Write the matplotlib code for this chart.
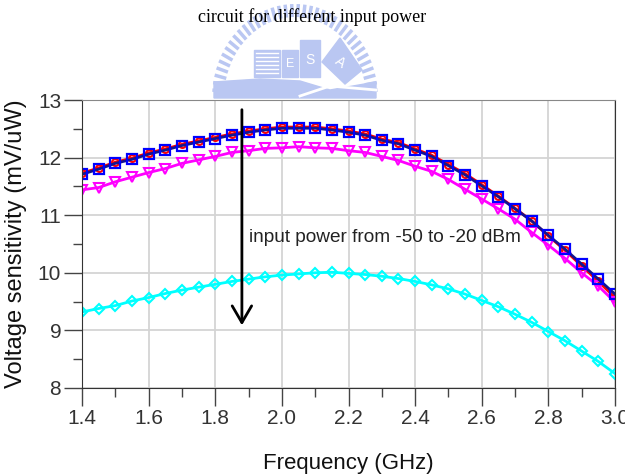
import numpy as np
import matplotlib.pyplot as plt
from matplotlib.patches import Rectangle, Polygon
from matplotlib.ticker import MultipleLocator

# frequency points (GHz)
freq = [1.40, 1.45, 1.50, 1.55, 1.60, 1.65, 1.70, 1.75, 1.80, 1.85, 1.90,
        1.95, 2.00, 2.05, 2.10, 2.15, 2.20, 2.25, 2.30, 2.35, 2.40, 2.45,
        2.50, 2.55, 2.60, 2.65, 2.70, 2.75, 2.80, 2.85, 2.90, 2.95, 3.00]

# voltage sensitivity (mV/uW) for each input power
sq_blue = [11.71, 11.80, 11.90, 11.97, 12.06, 12.13, 12.21, 12.27, 12.33, 12.39, 12.44,
           12.48, 12.51, 12.51, 12.51, 12.48, 12.44, 12.39, 12.30, 12.24, 12.13, 12.02,
           11.86, 11.70, 11.51, 11.32, 11.11, 10.90, 10.65, 10.41, 10.15, 9.89, 9.63]
circ_red = [11.73, 11.82, 11.92, 11.99, 12.08, 12.15, 12.23, 12.29, 12.35, 12.41, 12.46,
            12.50, 12.53, 12.53, 12.53, 12.50, 12.46, 12.41, 12.32, 12.26, 12.15, 12.04,
            11.88, 11.72, 11.53, 11.33, 11.12, 10.90, 10.64, 10.39, 10.12, 9.85, 9.57]
tri_mag = [11.44, 11.48, 11.58, 11.66, 11.74, 11.81, 11.90, 11.96, 12.02, 12.09, 12.12,
           12.16, 12.17, 12.19, 12.17, 12.16, 12.12, 12.09, 12.02, 11.95, 11.85, 11.76,
           11.62, 11.45, 11.28, 11.11, 10.93, 10.70, 10.48, 10.25, 10.00, 9.77, 9.49]
dia_cyan = [9.32, 9.38, 9.43, 9.51, 9.57, 9.64, 9.70, 9.75, 9.80, 9.85, 9.89,
            9.93, 9.96, 9.98, 10.00, 10.01, 9.99, 9.97, 9.94, 9.90, 9.85, 9.79,
            9.72, 9.63, 9.52, 9.41, 9.28, 9.14, 8.98, 8.82, 8.64, 8.46, 8.25]

xticks = [1.4, 1.6, 1.8, 2.0, 2.2, 2.4, 2.6, 2.8, 3.0]
yticks = [8, 9, 10, 11, 12, 13]

plt.rcParams['font.family'] = ['Liberation Sans', 'DejaVu Sans']

fig = plt.figure(figsize=(6.25, 4.76), dpi=100)

# faded logo behind the title (pixel coords)
bg = fig.add_axes([0, 0, 1, 1], zorder=0)
bg.set_xlim(0, 625)
bg.set_ylim(476, 0)
bg.axis('off')
lc = '#bac7f2'
cx, cy = 295, 99
for a in np.linspace(np.pi * 0.03, np.pi * 0.97, 38):
    x0, y0 = cx - 71 * np.cos(a), cy - 82 * np.sin(a)
    x1, y1 = cx - 83 * np.cos(a), cy - 95 * np.sin(a)
    bg.plot([x0, x1], [y0, y1], color=lc, lw=2.5, solid_capstyle='butt')
bg.add_patch(Rectangle((254, 50), 26, 27, color=lc))
for yy in range(53, 76, 4):
    bg.plot([256, 278], [yy, yy], color='white', lw=1)
bg.add_patch(Rectangle((282, 50), 16, 27, color=lc))
bg.add_patch(Rectangle((300, 40), 20, 37, color=lc))
bg.text(290, 64, 'E', color='white', fontsize=9, ha='center', va='center')
bg.text(310, 60, 'S', color='white', fontsize=10, ha='center', va='center')
bg.add_patch(Polygon([[322, 62], [340, 38], [362, 70], [345, 84]], color=lc))
bg.text(340, 62, 'A', color='white', fontsize=10, ha='center', va='center', rotation=-35)
bg.add_patch(Polygon([[214, 82], [260, 79], [300, 81], [330, 90], [376, 82],
                      [376, 98], [214, 98]], color=lc))
bg.plot([300, 330, 376], [96, 86, 90], color='white', lw=2)

fig.text(0.5, 0.965, 'circuit for different input power', ha='center', va='center',
         fontsize=13, family='Liberation Serif', color='black', zorder=5)

ax = fig.add_axes([0.1312, 0.1849, 0.8528, 0.605], zorder=1)
ax.patch.set_alpha(0)

ax.plot(freq, circ_red, color='red', lw=2, marker='o', ms=5, mfc='none', mec='red', mew=1.5)
ax.plot(freq, tri_mag, color='magenta', lw=2, marker='v', ms=7, mfc='none', mec='magenta', mew=1.5)
ax.plot(freq, dia_cyan, color='cyan', lw=2, marker='D', ms=5, mfc='none', mec='cyan', mew=1.5)
ax.plot(freq, sq_blue, color='#14148f', lw=2, marker='s', ms=6.5, mfc='none', mec='blue', mew=1.6)

ax.annotate('', xy=(1.88, 9.04), xytext=(1.88, 12.88),
            arrowprops=dict(arrowstyle='->,head_length=0.6,head_width=0.35',
                            lw=2, color='black', mutation_scale=20))
ax.text(1.9, 10.62, 'input power from -50 to -20 dBm', fontsize=13.7,
        color='#222222', va='center', ha='left')

ax.set_xlim(1.4, 3.0)
ax.set_ylim(8, 13)
ax.set_xticks(xticks)
ax.set_xticklabels(['%.1f' % v for v in xticks])
ax.set_yticks(yticks)
ax.xaxis.set_minor_locator(MultipleLocator(0.1))
ax.yaxis.set_minor_locator(MultipleLocator(0.5))
ax.grid(True, which='major', color='#d4d4d4', lw=1.3)
ax.set_axisbelow(True)

ax.tick_params(axis='both', which='major', direction='out', length=13, width=1,
               color='#444444', labelsize=15, labelcolor='#333333', pad=2)
ax.tick_params(axis='both', which='minor', direction='out', length=6.5, width=1, color='#444444')

for s in ['left', 'bottom', 'right']:
    ax.spines[s].set_color('#333333')
ax.spines['top'].set_color('#888888')

ax.set_xlabel('Frequency (GHz)', fontsize=16, color='#111111', labelpad=18)
ax.set_ylabel('Voltage sensitivity (mV/uW)', fontsize=17, color='#111111', labelpad=8)

fig.savefig('out.png', dpi=100)
